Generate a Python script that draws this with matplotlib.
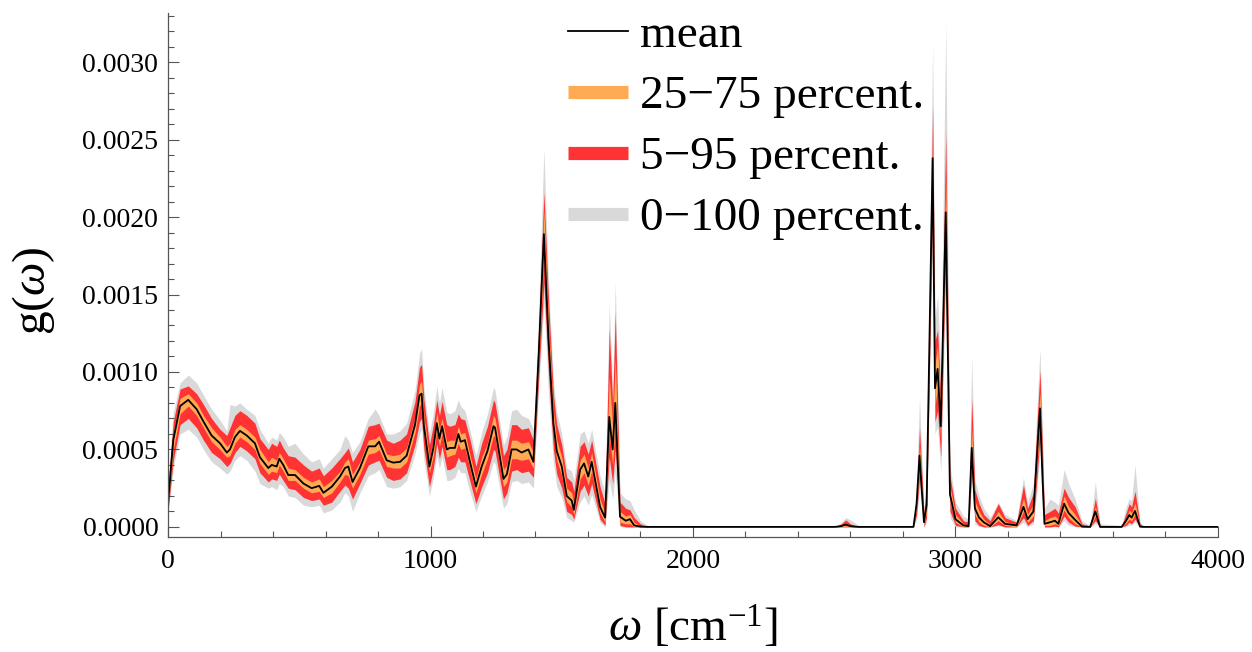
import matplotlib
matplotlib.use("Agg")
import matplotlib.pyplot as plt
from matplotlib.lines import Line2D
from matplotlib.ticker import MultipleLocator, FormatStrFormatter
import numpy as np

plt.rcParams['font.family'] = ['Liberation Serif', 'DejaVu Serif']
plt.rcParams['mathtext.fontset'] = 'custom'
plt.rcParams['mathtext.rm'] = 'Liberation Serif'
plt.rcParams['mathtext.it'] = 'Liberation Serif:italic'

# wavenumber grid [cm^-1] and g(omega) quantiles (units of 1e-4)
wavenumber = [
    0, 20, 46, 77, 109, 135, 166, 198, 224, 236,
    255, 274, 300, 331, 350, 382, 395, 414, 424, 439,
    458, 484, 516, 547, 576, 592, 624, 655, 674, 687,
    703, 731, 763, 789, 804, 833, 858, 884, 909, 941,
    958, 966, 975, 996, 1011, 1024, 1034, 1044, 1062, 1074,
    1093, 1106, 1115, 1131, 1151, 1173, 1195, 1217, 1240, 1246,
    1278, 1291, 1309, 1328, 1347, 1373, 1392, 1412, 1432, 1450,
    1468, 1481, 1500, 1519, 1538, 1546, 1570, 1585, 1601, 1614,
    1646, 1665, 1681, 1694, 1704, 1722, 1744, 1760, 1776, 1800,
    1830, 2540, 2565, 2582, 2600, 2630, 2650, 2840, 2852, 2863,
    2880, 2890, 2913, 2922, 2932, 2944, 2963, 2979, 3000, 3030,
    3050, 3062, 3074, 3090, 3108, 3132, 3163, 3189, 3233, 3259,
    3275, 3297, 3310, 3322, 3332, 3339, 3360, 3379, 3392, 3414,
    3431, 3456, 3482, 3513, 3533, 3551, 3633, 3650, 3662, 3671,
    3684, 3703, 3720, 4000]

g_mean = [
    1.5, 5.6, 7.8, 8.2, 7.6, 6.8, 5.9, 5.4, 4.8, 5.0,
    5.8, 6.2, 5.9, 5.4, 4.5, 3.8, 4.0, 3.9, 4.4, 4.0,
    3.35, 3.35, 2.8, 2.5, 2.65, 2.2, 2.6, 3.25, 3.8, 3.9,
    2.9, 3.8, 5.2, 5.2, 5.5, 4.3, 4.15, 4.2, 4.6, 6.6,
    8.5, 8.6, 6.5, 3.9, 5.1, 6.7, 5.7, 6.5, 5.0, 5.1,
    5.1, 6.0, 5.5, 5.6, 4.15, 2.6, 3.9, 4.9, 6.5, 6.4,
    3.1, 3.4, 5.0, 5.0, 4.8, 5.0, 4.2, 11.0, 18.9, 12.0,
    6.7, 4.9, 3.9, 2.0, 1.7, 1.1, 3.7, 4.1, 3.25, 4.2,
    1.3, 0.6, 7.1, 5.0, 8.0, 0.66, 0.4, 0.5, 0.1, 0.02,
    0, 0, 0.05, 0.15, 0.05, 0, 0, 0, 1.5, 4.6,
    0.3, 1.4, 23.8, 8.95, 10.2, 6.5, 20.3, 2.1, 0.5, 0.1,
    0.05, 5.1, 1.2, 0.6, 0.3, 0.05, 0.62, 0.2, 0.1, 1.3,
    0.5, 1.0, 4.5, 7.65, 3.0, 0.2, 0.3, 0.4, 0.2, 1.5,
    0.9, 0.45, 0.02, 0, 1.0, 0, 0, 0.4, 0.77, 0.6,
    1.03, 0.02, 0, 0]

g_p25 = [
    1.2, 5.0, 7.3, 7.8, 7.2, 6.4, 5.5, 5.0, 4.5, 4.6,
    5.4, 5.8, 5.5, 5.0, 4.1, 3.4, 3.6, 3.5, 4.0, 3.6,
    3.0, 3.0, 2.5, 2.2, 2.3, 1.9, 2.2, 2.9, 3.4, 3.3,
    2.5, 3.4, 4.7, 4.8, 5.0, 3.9, 3.8, 3.8, 4.2, 6.1,
    7.8, 8.0, 6.0, 3.5, 4.6, 6.2, 5.2, 6.0, 4.5, 4.6,
    4.7, 5.4, 5.0, 5.1, 3.7, 2.2, 3.4, 4.4, 5.9, 5.8,
    2.6, 2.9, 4.4, 4.4, 4.3, 4.4, 3.8, 10.3, 17.6, 11.0,
    6.0, 4.3, 3.3, 1.6, 1.3, 0.8, 3.1, 3.5, 2.7, 3.6,
    0.9, 0.3, 6.0, 4.0, 6.8, 0.3, 0.2, 0.2, 0, 0,
    0, 0, 0, 0.05, 0, 0, 0, 0, 1.2, 4.0,
    0.1, 1.0, 22.5, 7.8, 9.0, 5.5, 19.0, 1.6, 0.3, 0,
    0, 4.3, 0.8, 0.3, 0.1, 0, 0.4, 0.1, 0, 1.0,
    0.3, 0.7, 3.8, 6.8, 2.4, 0.1, 0.1, 0.2, 0.1, 1.1,
    0.6, 0.2, 0, 0, 0.7, 0, 0, 0.25, 0.5, 0.4,
    0.8, 0, 0, 0]

g_p75 = [
    1.9, 6.1, 8.3, 8.6, 8.0, 7.2, 6.4, 5.8, 5.2, 5.4,
    6.3, 6.6, 6.3, 5.8, 5.0, 4.2, 4.5, 4.3, 4.8, 4.4,
    3.8, 3.7, 3.2, 2.9, 3.1, 2.6, 3.0, 3.6, 4.2, 4.4,
    3.4, 4.2, 5.6, 5.7, 5.9, 4.7, 4.6, 4.7, 5.1, 7.1,
    9.2, 9.4, 7.2, 4.4, 5.6, 7.4, 6.3, 7.0, 5.5, 5.6,
    5.6, 6.5, 6.0, 6.1, 4.6, 3.1, 4.5, 5.4, 7.2, 7.0,
    3.7, 4.0, 5.6, 5.6, 5.4, 5.5, 4.8, 11.8, 20.4, 13.2,
    7.5, 5.6, 4.5, 2.5, 2.2, 1.5, 4.3, 4.7, 3.8, 4.8,
    1.8, 0.9, 9.7, 6.5, 10.9, 1.0, 0.7, 0.8, 0.3, 0.05,
    0, 0, 0.1, 0.25, 0.1, 0, 0, 0, 1.8, 5.3,
    0.5, 1.8, 25.2, 10.5, 11.7, 7.5, 22.4, 2.6, 0.8, 0.2,
    0.1, 6.3, 1.7, 1.0, 0.5, 0.15, 1.0, 0.35, 0.15, 1.85,
    0.8, 1.5, 5.3, 8.7, 3.8, 0.4, 0.6, 0.7, 0.5, 2.0,
    1.3, 0.8, 0.1, 0, 1.3, 0.05, 0, 0.6, 1.1, 0.9,
    1.55, 0.1, 0, 0]

g_p05 = [
    1.0, 4.3, 6.6, 7.0, 6.4, 5.6, 4.8, 4.4, 3.9, 4.1,
    4.8, 5.2, 4.9, 4.4, 3.5, 2.9, 3.1, 3.0, 3.4, 3.0,
    2.5, 2.4, 1.9, 1.7, 1.8, 1.4, 1.6, 2.3, 2.7, 2.5,
    1.8, 2.8, 4.0, 4.2, 4.3, 3.2, 3.0, 3.1, 3.5, 5.3,
    6.8, 7.0, 5.0, 2.6, 3.8, 5.4, 4.4, 5.2, 3.7, 3.7,
    3.9, 4.5, 4.2, 4.2, 2.9, 1.5, 2.6, 3.5, 5.0, 4.9,
    1.8, 2.2, 3.6, 3.7, 3.5, 3.6, 3.2, 9.5, 15.8, 9.8,
    5.0, 3.4, 2.5, 1.0, 0.8, 0.5, 2.3, 2.7, 2.0, 2.8,
    0.5, 0.1, 4.5, 2.8, 5.0, 0.1, 0, 0, 0, 0,
    0, 0, 0, 0, 0, 0, 0, 0, 0.8, 3.2,
    0, 0.6, 20.5, 6.8, 7.5, 4.5, 17.5, 1.0, 0.1, 0,
    0, 3.5, 0.4, 0.1, 0, 0, 0.15, 0, 0, 0.6,
    0.1, 0.4, 3.0, 5.8, 1.6, 0, 0, 0.05, 0, 0.7,
    0.3, 0.05, 0, 0, 0.4, 0, 0, 0.1, 0.3, 0.2,
    0.5, 0, 0, 0]

g_p95 = [
    2.6, 6.8, 8.9, 9.1, 8.6, 7.9, 7.0, 6.3, 5.9, 6.4,
    7.2, 7.5, 7.2, 6.7, 5.7, 5.0, 5.4, 5.2, 5.6, 5.1,
    4.6, 4.5, 4.0, 3.6, 3.8, 3.3, 3.8, 4.4, 4.8, 5.1,
    4.2, 5.0, 6.5, 6.6, 6.7, 5.6, 5.4, 5.6, 6.0, 8.1,
    10.3, 10.5, 8.2, 5.3, 6.6, 8.2, 7.2, 8.1, 6.6, 6.5,
    6.6, 7.3, 7.0, 6.9, 5.6, 3.9, 5.4, 6.5, 8.2, 8.0,
    4.6, 5.0, 6.6, 6.6, 6.3, 6.4, 5.6, 12.8, 21.6, 14.5,
    8.6, 6.6, 5.3, 3.2, 2.9, 2.3, 5.2, 5.5, 4.7, 5.6,
    2.6, 1.5, 12.8, 8.0, 13.8, 1.6, 1.2, 1.1, 0.6, 0.2,
    0, 0, 0.2, 0.45, 0.2, 0, 0, 0, 2.2, 6.4,
    0.9, 2.5, 27.2, 12.0, 12.7, 8.5, 25.5, 3.3, 1.2, 0.4,
    0.3, 8.3, 2.4, 1.5, 0.8, 0.4, 1.5, 0.6, 0.3, 2.7,
    1.2, 2.2, 6.5, 10.1, 4.8, 0.8, 1.0, 1.2, 0.9, 2.5,
    1.9, 1.3, 0.2, 0.05, 1.85, 0.1, 0.05, 0.9, 1.5, 1.3,
    2.3, 0.2, 0, 0]

g_min = [
    0.9, 3.8, 6.0, 6.3, 5.8, 5.0, 4.2, 3.8, 3.4, 3.6,
    4.3, 4.6, 4.3, 3.6, 2.8, 2.5, 2.6, 2.4, 2.8, 2.6,
    2.0, 1.9, 1.4, 1.3, 1.4, 0.9, 1.1, 1.6, 2.2, 2.0,
    1.0, 2.2, 3.3, 3.5, 3.7, 2.6, 2.5, 2.6, 3.0, 4.7,
    6.0, 6.3, 4.3, 2.0, 3.2, 4.6, 3.8, 4.5, 3.0, 3.0,
    3.2, 3.8, 3.5, 3.5, 2.2, 1.0, 2.0, 2.9, 4.2, 4.1,
    1.2, 1.5, 2.9, 3.0, 2.8, 2.9, 2.5, 8.8, 14.5, 8.5,
    4.2, 2.6, 1.9, 0.6, 0.4, 0.3, 1.6, 2.0, 1.4, 2.1,
    0.3, 0, 3.0, 1.8, 3.5, 0, 0, 0, 0, 0,
    0, 0, 0, 0, 0, 0, 0, 0, 0.5, 2.5,
    0, 0.3, 19.0, 6.0, 6.5, 3.5, 16.0, 0.6, 0, 0,
    0, 2.8, 0.2, 0, 0, 0, 0.05, 0, 0, 0.3,
    0, 0.2, 2.2, 5.0, 1.0, 0, 0, 0, 0, 0.4,
    0.1, 0, 0, 0, 0.2, 0, 0, 0, 0.1, 0.1,
    0.3, 0, 0, 0]

g_max = [
    3.0, 7.4, 9.3, 9.8, 9.3, 8.5, 7.6, 6.9, 6.2, 7.9,
    7.8, 8.0, 7.6, 7.2, 6.3, 5.4, 5.8, 5.6, 6.1, 5.8,
    5.2, 5.4, 4.7, 4.2, 4.4, 3.8, 4.4, 5.0, 5.9, 5.6,
    4.8, 5.5, 7.0, 7.6, 7.2, 6.0, 6.0, 6.2, 6.7, 8.8,
    11.2, 11.5, 9.0, 6.0, 7.4, 9.1, 8.0, 9.0, 7.4, 7.3,
    7.5, 8.2, 7.8, 7.5, 6.2, 4.6, 6.1, 7.3, 9.0, 8.8,
    5.3, 5.8, 7.5, 7.6, 7.2, 7.0, 6.3, 13.8, 24.4, 15.6,
    9.5, 7.4, 6.0, 3.8, 3.6, 3.0, 6.0, 6.2, 5.4, 6.3,
    3.3, 2.2, 14.4, 9.0, 15.8, 2.2, 1.8, 1.7, 1.1, 0.4,
    0.05, 0, 0.3, 0.6, 0.45, 0.1, 0, 0, 3.0, 8.3,
    1.2, 3.0, 31.2, 13.5, 14.9, 10.0, 32.5, 4.0, 1.6, 0.7,
    0.5, 11.0, 3.0, 2.0, 1.2, 0.6, 1.6, 0.8, 0.4, 3.2,
    1.6, 2.8, 7.5, 11.5, 5.8, 1.2, 1.8, 1.6, 1.4, 3.7,
    2.8, 1.8, 0.4, 0.1, 2.9, 0.2, 0.1, 1.3, 1.8, 1.7,
    4.0, 0.3, 0, 0]

band_labels = ['25\u221275 percent.', '5\u221295 percent.', '0\u2212100 percent.']
band_colors = ['#FFAA55', '#FF3333', '#D9D9D9']

unit = 1e-4
w = np.array(wavenumber)
mean = np.array(g_mean) * unit
p25, p75 = np.array(g_p25) * unit, np.array(g_p75) * unit
p05, p95 = np.array(g_p05) * unit, np.array(g_p95) * unit
gmin, gmax = np.array(g_min) * unit, np.array(g_max) * unit

fig = plt.figure(figsize=(12.52, 6.52), dpi=100)
ax = fig.add_axes([0.1342, 0.1764, 0.8386, 0.8044])

ax.fill_between(w, gmin, gmax, color=band_colors[2], lw=0)
ax.fill_between(w, p05, p95, color=band_colors[1], lw=0)
ax.fill_between(w, p25, p75, color=band_colors[0], lw=0)
ax.plot(w, mean, color='black', lw=1.3)

ax.set_xlim(0, 4000)
ax.set_ylim(-0.000065, 0.00332)

ax.xaxis.set_major_locator(MultipleLocator(1000))
ax.xaxis.set_minor_locator(MultipleLocator(200))
ax.yaxis.set_major_locator(MultipleLocator(0.0005))
ax.yaxis.set_minor_locator(MultipleLocator(0.0001))
ax.yaxis.set_major_formatter(FormatStrFormatter('%.4f'))

for s in ['top', 'right']:
    ax.spines[s].set_visible(False)
for s in ['left', 'bottom']:
    ax.spines[s].set_color('#555555')
    ax.spines[s].set_linewidth(0.9)

ax.tick_params(which='both', direction='in', color='#555555', width=0.8)
ax.tick_params(which='major', length=8, labelsize=20)
ax.tick_params(which='minor', length=4.5)
ax.tick_params(axis='x', pad=9)
ax.tick_params(axis='y', pad=7)

ax.set_xlabel(r'$\omega$ [cm$^{-1}$]', fontsize=34, labelpad=22)
ax.set_ylabel(r'g($\omega$)', fontsize=34)
ax.yaxis.set_label_coords(-0.106, 0.47)

handles = [Line2D([], [], color='black', lw=1.3)]
for c in band_colors:
    handles.append(Line2D([], [], color=c, lw=9.5, solid_capstyle='butt'))
leg = ax.legend(handles, ['mean'] + band_labels, loc='upper left',
                bbox_to_anchor=(568 / 1252, 1 - 14 / 652), bbox_transform=fig.transFigure,
                frameon=False, fontsize=34, handlelength=1.27, handletextpad=0.25,
                labelspacing=0.38, borderpad=0, borderaxespad=0)

fig.savefig('out.png', dpi=100)
